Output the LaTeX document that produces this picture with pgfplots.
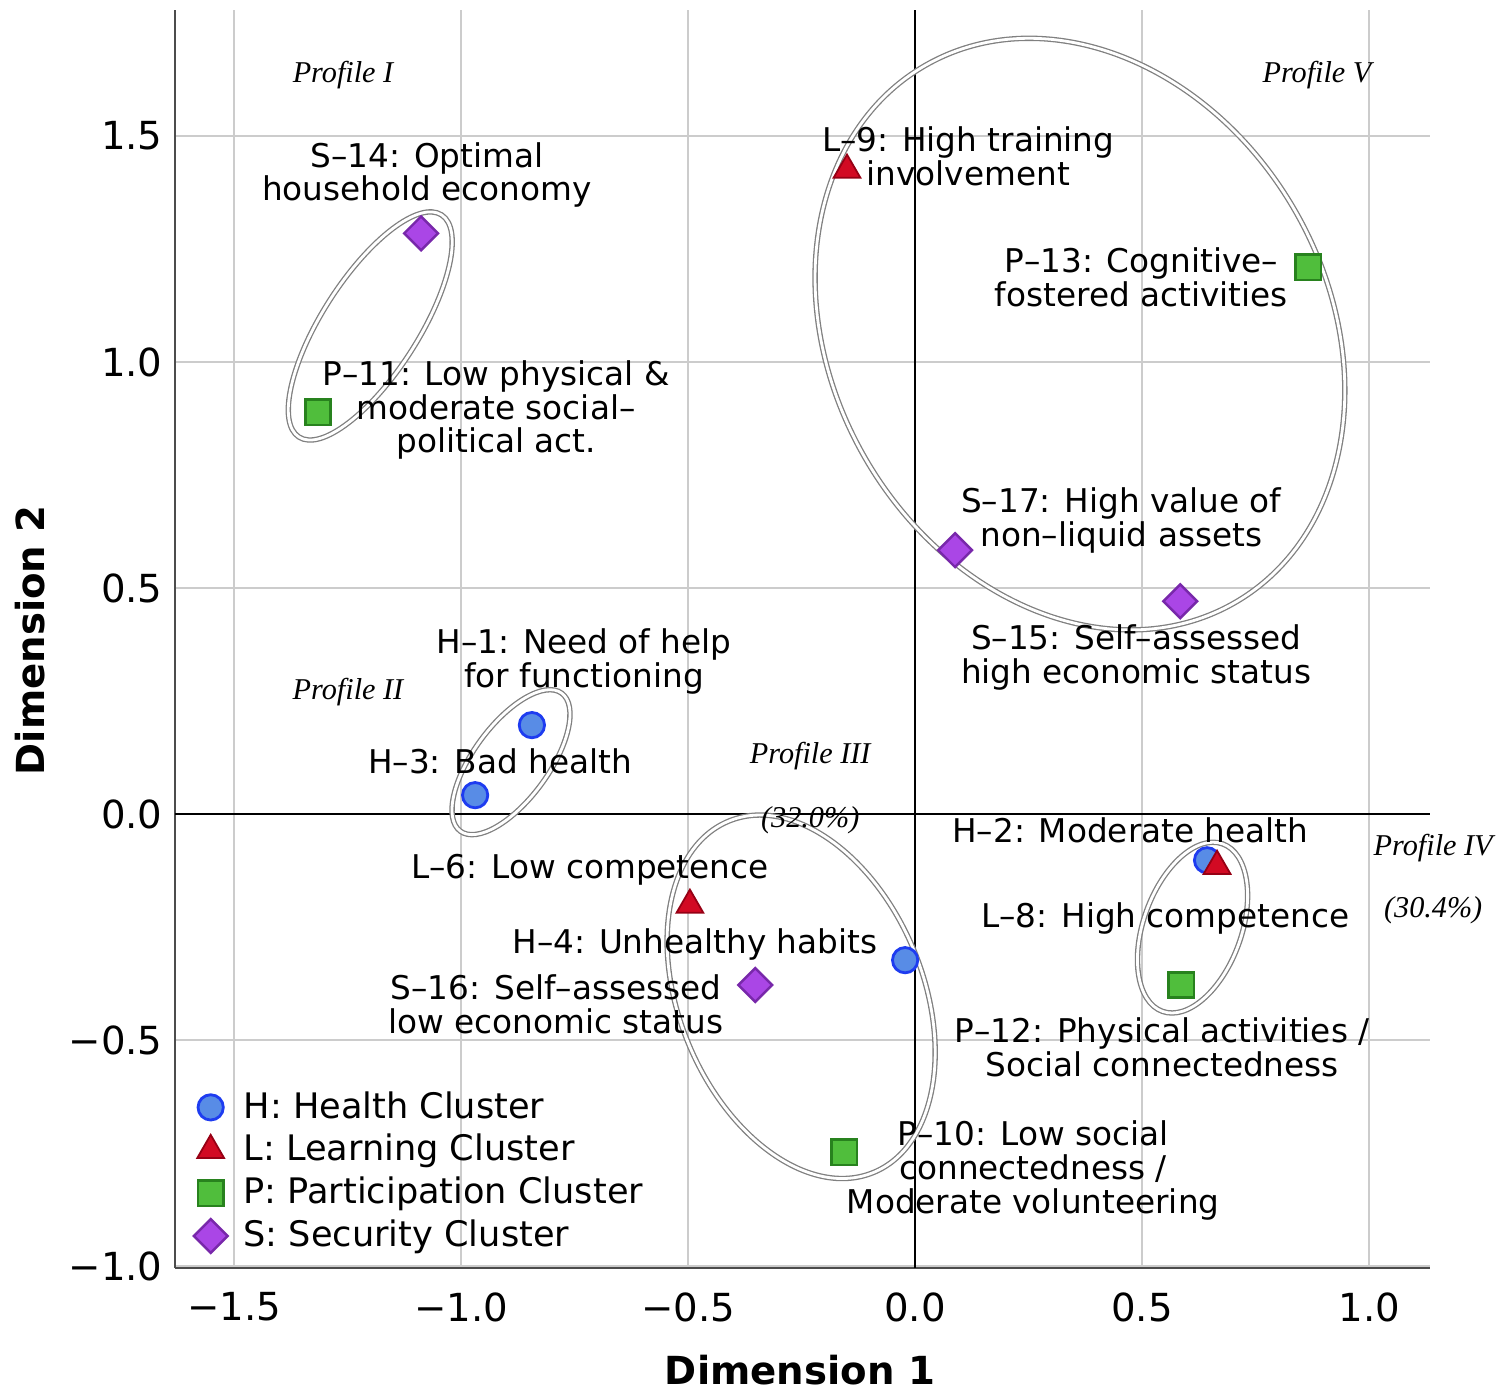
\documentclass[border=0pt]{standalone}
\usepackage{fontspec}
\setsansfont{DejaVu Sans}
\newfontfamily\profont{Liberation Serif}
\renewcommand\familydefault{\sfdefault}
\usepackage{pgfplots}
\pgfplotsset{compat=1.18}
\definecolor{hfill}{RGB}{88,140,230}
\definecolor{hdraw}{RGB}{30,60,240}
\definecolor{lfill}{RGB}{210,10,35}
\definecolor{ldraw}{RGB}{150,0,20}
\definecolor{pfill}{RGB}{80,190,60}
\definecolor{pdraw}{RGB}{40,130,30}
\definecolor{sfill}{RGB}{170,70,230}
\definecolor{sdraw}{RGB}{120,40,170}
\newcommand\lab{\fontsize{9.3}{9.6}\selectfont}
\newcommand\prof{\profont\itshape\fontsize{8.6}{9}\selectfont}
\begin{document}
\begin{tikzpicture}
\useasboundingbox (0,0) rectangle (151mm,139.1mm);
\begin{axis}[
  at={(17.5mm,12.3mm)}, anchor=south west,
  scale only axis, width=125.5mm, height=125.8mm,
  xmin=-1.630, xmax=1.134, ymin=-1.004, ymax=1.779,
  axis x line=bottom, axis y line=left,
  axis line style={-, draw=black!70, line width=0.7pt},
  xtick={-1.5,-1,-0.5,0,0.5,1},
  xticklabels={−1.5,−1.0,−0.5,0.0,0.5,1.0},
  ytick={-1,-0.5,0,0.5,1,1.5},
  yticklabels={−1.0,−0.5,0.0,0.5,1.0,1.5},
  major tick length=0pt,
  grid=major, major grid style={draw=black!20, line width=0.6pt},
  ticklabel style={font=\fontsize{11}{12}\selectfont},
  xticklabel style={yshift=-1.2mm},
  xlabel={Dimension 1}, ylabel={Dimension 2},
  label style={font=\bfseries\fontsize{11}{12}\selectfont},
  x label style={at={(axis description cs:0.498,-0.081)}, anchor=center},
  y label style={at={(axis description cs:-0.1155,0.499)}, anchor=center},
  clip=false,
  legend style={at={(rel axis cs:0.006,0.001)}, anchor=south west, draw=none, fill=none,
    font=\fontsize{10}{11}\selectfont, row sep=-0.9pt},
  legend cell align=left,
]
\draw[black, line width=0.6pt] (axis cs:0,-1.004) -- (axis cs:0,1.779);
\draw[black, line width=0.6pt] (axis cs:-1.630,0) -- (axis cs:1.134,0);

\addplot[only marks, mark=*, mark size=3.6pt, mark options={fill=hfill, draw=hdraw, line width=0.8pt}]
  coordinates {(-0.844,0.197) (-0.969,0.042) (0.643,-0.102) (-0.022,-0.323)};
\addlegendentry{\hspace{0.9mm}H: Health Cluster}
\addplot[only marks, mark=triangle*, mark size=4.4pt, mark options={fill=lfill, draw=ldraw, line width=0.5pt}]
  coordinates {(-0.150,1.425) (-0.496,-0.201) (0.665,-0.115)};
\addlegendentry{\hspace{0.9mm}L: Learning Cluster}
\addplot[only marks, mark=square*, mark size=3.6pt, mark options={fill=pfill, draw=pdraw, line width=0.7pt}]
  coordinates {(0.866,1.210) (-1.315,0.889) (0.586,-0.378) (-0.156,-0.748)};
\addlegendentry{\hspace{0.9mm}P: Participation Cluster}
\addplot[only marks, mark=square*, mark size=3.4pt, mark options={rotate=45, fill=sfill, draw=sdraw, line width=0.7pt}]
  coordinates {(-1.088,1.285) (0.088,0.584) (0.584,0.471) (-0.352,-0.378)};
\addlegendentry{\hspace{0.9mm}S: Security Cluster}

\tikzset{ell/.style={draw=black!50, double=white, double distance=0.28mm, line width=0.13mm}}
\draw[ell] (axis cs:-1.200,1.080) circle [x radius=13.2mm, y radius=4.8mm, rotate=57.3];
\draw[ell] (axis cs:-0.890,0.115) circle [x radius=8.56mm, y radius=3.75mm, rotate=53.7];
\draw[ell] (axis cs:-0.251,-0.404) circle [x radius=19.0mm, y radius=12.2mm, rotate=112.4];
\draw[ell] (axis cs:0.611,-0.251) circle [x radius=8.9mm, y radius=4.9mm, rotate=70.2];
\draw[ell] (axis cs:0.363,1.062) circle [x radius=31.0mm, y radius=24.8mm, rotate=120];

\begin{scope}[every node/.style={align=center, font=\lab, inner sep=0pt}]
\node at (axis cs:-1.075,1.414) {S–14: Optimal\\household economy};
\node at (axis cs:0.117,1.456) {L–9: High training\\involvement};
\node at (axis cs:0.498,1.188) {P–13: Cognitive–\\fostered activities};
\node at (axis cs:-0.923,0.894) {P–11: Low physical \&\\moderate social–\\political act.};
\node at (axis cs:0.454,0.650) {S–17: High value of\\non–liquid assets};
\node at (axis cs:0.487,0.347) {S–15: Self–assessed\\high economic status};
\node at (axis cs:-0.729,0.338) {H–1: Need of help\\for functioning};
\node at (axis cs:-0.914,0.117) {H–3: Bad health};
\node at (axis cs:0.474,-0.035) {H–2: Moderate health};
\node at (axis cs:-0.716,-0.124) {L–6: Low competence};
\node at (axis cs:0.551,-0.230) {L–8: High competence};
\node at (axis cs:-0.485,-0.288) {H–4: Unhealthy habits};
\node at (axis cs:-0.791,-0.420) {S–16: Self–assessed\\low economic status};
\node at (axis cs:0.544,-0.515) {P–12: Physical activities /\\Social connectedness};
\node at (axis cs:0.260,-0.788) {P–10: Low social\\connectedness /\\Moderate volunteering};
\end{scope}

\begin{scope}[every node/.style={font=\prof, inner sep=0pt}]
\node at (axis cs:-1.260,1.635) {Profile I};
\node at (axis cs:-1.249,0.270) {Profile II};
\node at (axis cs:-0.231,0.128) {Profile III};
\node at (axis cs:-0.231,-0.013) {(32.0\%)};
\node at (axis cs:1.141,-0.075) {Profile IV};
\node at (axis cs:1.141,-0.212) {(30.4\%)};
\node at (axis cs:0.885,1.635) {Profile V};
\end{scope}
\end{axis}
\end{tikzpicture}
\end{document}
